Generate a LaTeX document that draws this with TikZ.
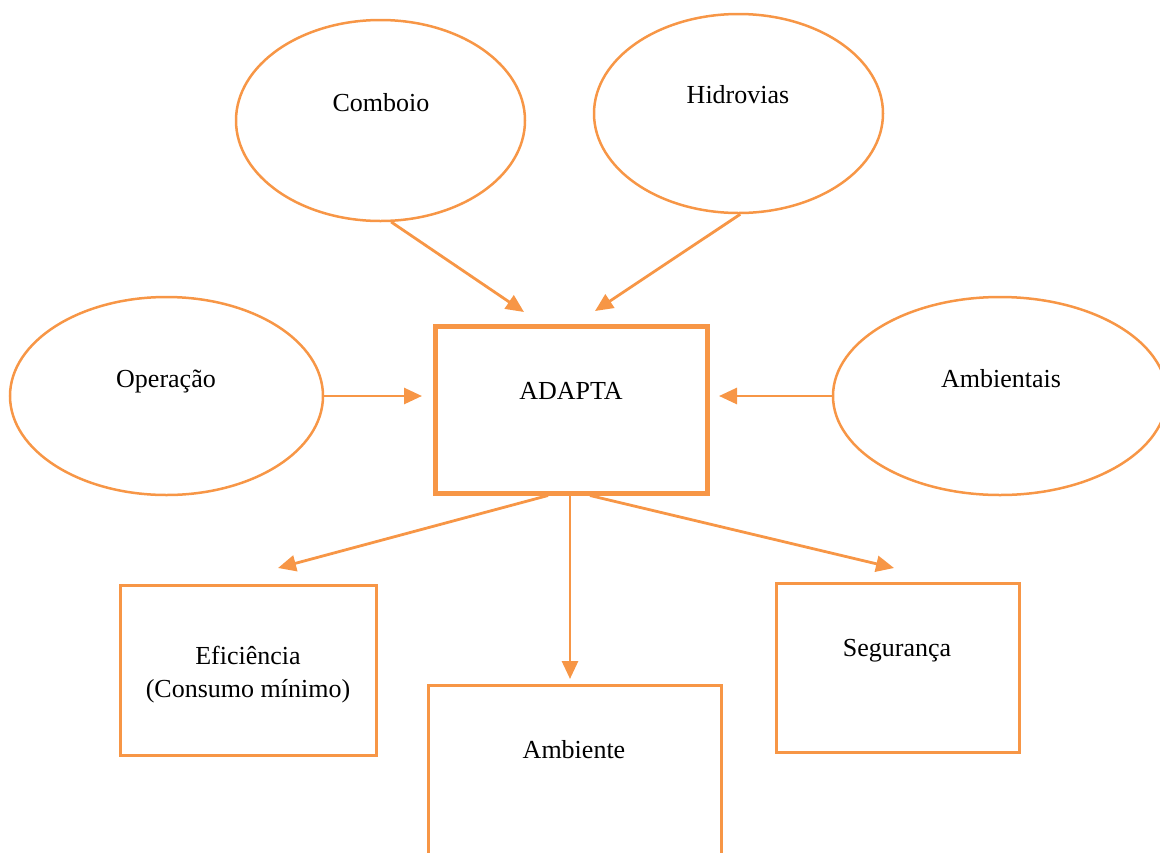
\documentclass[tikz,border=0pt]{standalone}
\usepackage{fontspec}
\setmainfont{Liberation Serif}
\usetikzlibrary{shapes.geometric,arrows.meta}
\definecolor{accent}{RGB}{247,150,70}
\begin{document}
\begin{tikzpicture}[x=1pt,y=-1pt,
  txt/.style={anchor=base,inner sep=0pt,font=\fontsize{26}{31}\selectfont},
  oval/.style={ellipse,draw=accent,line width=2.5pt,inner sep=0pt},
  box/.style={rectangle,draw=accent,line width=3pt,inner sep=0pt},
  hub/.style={rectangle,draw=accent,line width=5pt,inner sep=0pt},
  link/.style={draw=accent,line width=2.8pt,-{Triangle[length=18pt,width=16pt]}}
]
\useasboundingbox (0,0) rectangle (1160,852);
\clip (0,0) rectangle (1160,852);

% central block
\node[hub,minimum width=272pt,minimum height=167pt] (adapta) at (571,409.5) {};
\node[txt] (adapta-t) at (571,399) {ADAPTA};

% inputs
\node[oval,minimum width=289pt,minimum height=201pt] (comboio) at (380.5,120.5) {};
\node[txt] (comboio-t) at (381,111) {Comboio};
\node[oval,minimum width=289pt,minimum height=199pt] (hidrovias) at (738.5,113.5) {};
\node[txt] (hidrovias-t) at (738,103) {Hidrovias};
\node[oval,minimum width=313pt,minimum height=198pt] (operacao) at (166.5,396) {};
\node[txt] (operacao-t) at (166,387) {Operação};
\node[oval,minimum width=334pt,minimum height=198pt] (ambientais) at (1000,396) {};
\node[txt] (ambientais-t) at (1001,387) {Ambientais};

% outputs
\node[box,minimum width=256pt,minimum height=170pt] (eficiencia) at (248,670) {};
\node[txt] (eficiencia-t1) at (248,664) {Eficiência};
\node[txt] (eficiencia-t2) at (248,697) {(Consumo mínimo)};
\node[box,minimum width=293pt,minimum height=230pt] (ambiente) at (574.5,800) {};
\node[txt] (ambiente-t) at (574,758) {Ambiente};
\node[box,minimum width=243pt,minimum height=169pt] (seguranca) at (897.5,667.5) {};
\node[txt] (seguranca-t) at (897,656) {Segurança};

% arrow tips
\coordinate (tip-comboio) at (524,312);
\coordinate (tip-hidrovias) at (595,311);
\coordinate (tip-operacao) at (422,396);
\coordinate (tip-ambientais) at (719,396);
\coordinate (tip-eficiencia) at (278,568);
\coordinate (tip-ambiente) at (570,679);
\coordinate (tip-seguranca) at (894,568);

% connectors
\draw[link] (comboio.-84) -- (tip-comboio);
\draw[link] (hidrovias.-89) -- (tip-hidrovias);
\draw[link] (operacao.east) -- (tip-operacao);
\draw[link] (ambientais.west) -- (tip-ambientais);
\draw[link] ([xshift=-23pt]adapta.south) -- (tip-eficiencia);
\draw[link] ([xshift=-1pt]adapta.south) -- (tip-ambiente);
\draw[link] ([xshift=19pt]adapta.south) -- (tip-seguranca);
\end{tikzpicture}
\end{document}
